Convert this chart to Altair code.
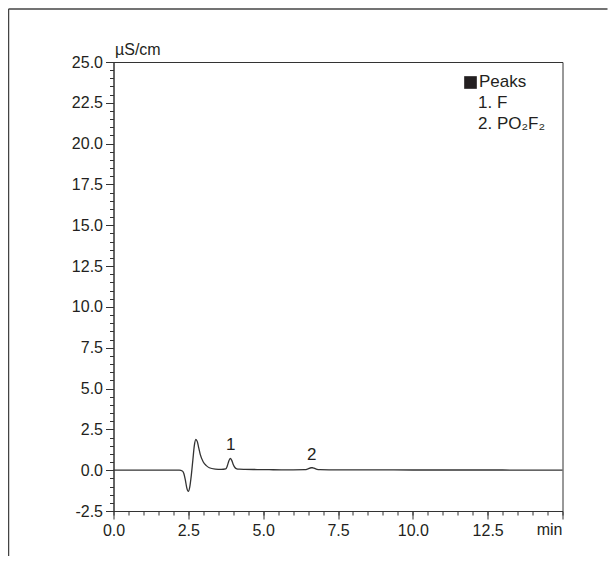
import altair as alt
import pandas as pd

# Chromatogram (time in min, conductivity in µS/cm)
time_min = [0.0, 1.0, 2.0, 2.2, 2.3, 2.35, 2.4, 2.45, 2.5, 2.55, 2.6, 2.65, 2.7, 2.75,
            2.8, 2.85, 2.9, 3.0, 3.1, 3.2, 3.4, 3.6, 3.75, 3.8, 3.85, 3.9, 3.95, 4.0,
            4.05, 4.1, 4.2, 4.4, 4.8, 5.2, 5.6, 6.0, 6.4, 6.5, 6.6, 6.65, 6.7, 6.8,
            6.9, 7.2, 8.0, 9.0, 10.0, 11.0, 12.0, 13.0, 14.0, 15.0]
signal = [0.0, 0.0, 0.0, 0.0, -0.05, -0.2, -0.6, -1.1, -1.3, -1.0, -0.3, 0.6, 1.5, 1.88,
          1.75, 1.35, 0.95, 0.5, 0.28, 0.15, 0.07, 0.05, 0.08, 0.25, 0.55, 0.72, 0.6, 0.35,
          0.18, 0.1, 0.06, 0.05, 0.04, 0.03, 0.02, 0.02, 0.03, 0.08, 0.15, 0.15, 0.12, 0.05,
          0.03, 0.02, 0.02, 0.02, 0.01, 0.01, 0.01, 0.01, 0.0, 0.0]

peak_labels = ["1", "2"]
peak_x = [3.92, 6.62]
peak_y = [1.55, 0.93]

legend_lines = ["Peaks", "1. F", "2. PO\u2082F\u2082"]

x_major = [0, 2.5, 5, 7.5, 10, 12.5, 15]
x_minor = [v / 2 for v in range(0, 31)]
y_major = [-2.5, 0, 2.5, 5, 7.5, 10, 12.5, 15, 17.5, 20, 22.5, 25]
y_minor = [v / 2 for v in range(-5, 51)]

FONT = "Liberation Sans"
TXT = "#231f20"
LINE = "#333333"
W, H = 449, 449

df = pd.DataFrame({"t": time_min, "v": signal})
pk = pd.DataFrame({"t": peak_x, "v": peak_y, "lab": peak_labels})

xscale = alt.Scale(domain=[0, 15], nice=False, zero=False)
yscale = alt.Scale(domain=[-2.5, 25], nice=False, zero=False)

common_axis = dict(grid=False, title=None, domainColor=LINE, tickColor=LINE,
                   labelColor=TXT, labelFont=FONT, labelFontSize=16,
                   labelOverlap=False, labelFlush=False, tickWidth=1, domainWidth=1)

line = alt.Chart(df).mark_line(color=LINE, strokeWidth=1.3, interpolate="monotone").encode(
    x=alt.X("t:Q", scale=xscale,
            axis=alt.Axis(orient="bottom", values=x_major, tickSize=8, labelPadding=3,
                          labelExpr="datum.value == 15 ? '' : format(datum.value, '.1f')",
                          **common_axis)),
    y=alt.Y("v:Q", scale=yscale,
            axis=alt.Axis(orient="left", values=y_major, tickSize=8, labelPadding=3,
                          labelExpr="replace(format(datum.value, '.1f'), '\u2212', '-')",
                          **common_axis)),
)

minor = alt.Chart(df).mark_line(opacity=0).encode(
    x=alt.X("t:Q", scale=xscale,
            axis=alt.Axis(orient="bottom", values=x_minor, tickSize=4, labels=False,
                          domain=False, grid=False, title=None, tickColor=LINE)),
    y=alt.Y("v:Q", scale=yscale,
            axis=alt.Axis(orient="left", values=y_minor, tickSize=4, labels=False,
                          domain=False, grid=False, title=None, tickColor=LINE)),
)

peaks = alt.Chart(pk).mark_text(font=FONT, fontSize=17, color=TXT, baseline="middle").encode(
    x=alt.X("t:Q", scale=xscale, axis=None),
    y=alt.Y("v:Q", scale=yscale, axis=None),
    text="lab:N",
)

leg_df = pd.DataFrame({"txt": legend_lines, "px": [365.5, 364.5, 364.5], "py": [20, 41, 62]})
legend = alt.Chart(leg_df).mark_text(font=FONT, fontSize=17, color=TXT, align="left",
                                     baseline="middle").encode(
    x=alt.X("px:Q", scale=None, axis=None),
    y=alt.Y("py:Q", scale=None, axis=None),
    text="txt:N",
)

leg_square = alt.Chart(pd.DataFrame({"a": [0]})).mark_square(
    color="#231f20", size=160, opacity=1, filled=True).encode(
    x=alt.value(357), y=alt.value(20.5))

unit = alt.Chart(pd.DataFrame({"s": ["\u00b5S/cm"]})).mark_text(
    font=FONT, fontSize=16, color=TXT, align="left", baseline="alphabetic").encode(
    x=alt.value(1.5), y=alt.value(-7), text="s:N")

minlab = alt.Chart(pd.DataFrame({"s": ["min"]})).mark_text(
    font=FONT, fontSize=16, color=TXT, align="right", baseline="top").encode(
    x=alt.value(W), y=alt.value(H + 11), text="s:N")

frame_left = alt.Chart(pd.DataFrame({"a": [0]})).mark_rule(color="#444444", strokeWidth=1.5).encode(
    x=alt.value(-105), y=alt.value(-53), y2=alt.value(H + 45))
frame_top = alt.Chart(pd.DataFrame({"a": [0]})).mark_rule(color="#444444", strokeWidth=1.5).encode(
    x=alt.value(-105), x2=alt.value(W + 45), y=alt.value(-53))

chart = alt.layer(line, minor, peaks, legend, leg_square, unit, minlab,
                  frame_left, frame_top).resolve_axis(
    x="independent", y="independent"
).properties(
    width=W, height=H,
    autosize=alt.AutoSizeParams(type="none"),
    padding={"left": 105.5, "top": 54, "right": 45, "bottom": 45},
    background="white",
).configure_view(stroke=LINE, strokeWidth=1)

chart.save("out.html", embed_options={"renderer": "svg", "actions": False})
